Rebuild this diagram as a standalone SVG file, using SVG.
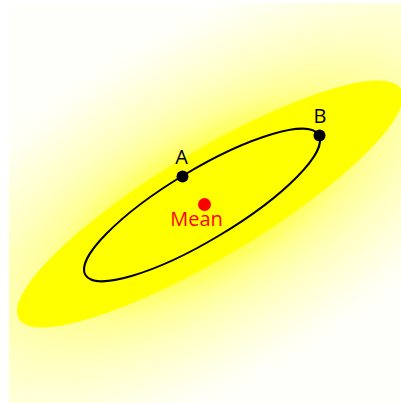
<svg xmlns="http://www.w3.org/2000/svg" width="401" height="403" viewBox="0 0 401 403">
  <defs>
    <radialGradient id="glow" gradientUnits="userSpaceOnUse" cx="0" cy="0" r="1" gradientTransform="translate(210 204) rotate(-31) scale(420 175)">
      <stop offset="0" stop-color="#ffff00"/>
      <stop offset="0.3" stop-color="#ffff50"/>
      <stop offset="0.45" stop-color="#ffff98"/>
      <stop offset="0.6" stop-color="#ffffc0"/>
      <stop offset="0.78" stop-color="#ffffde"/>
      <stop offset="0.9" stop-color="#fffff0"/>
      <stop offset="1" stop-color="#fffffa"/>
    </radialGradient>
    <style>
      .lbl { font-family: "Open Sans", "Liberation Sans", sans-serif; font-size: 20px; text-anchor: middle; }
      .pt { fill: #000000; }
    </style>
  </defs>
  <rect x="0" y="0" width="401" height="403" fill="#ffffff"/>
  <rect id="background" x="9" y="3" width="392" height="400" fill="url(#glow)"/>
  <g id="outer-region">
    <ellipse cx="210" cy="204" rx="223" ry="53" transform="rotate(-31 210 204)" fill="#ffff00"/>
  </g>
  <g id="contour">
    <ellipse cx="202" cy="205" rx="136" ry="35" transform="rotate(-31 202 205)" fill="none" stroke="#000000" stroke-width="2"/>
  </g>
  <g id="mean">
    <circle cx="204.5" cy="204.5" r="6.5" fill="#ff0000"/>
    <text class="lbl" x="196.5" y="226" fill="#ff0000">Mean</text>
  </g>
  <g id="pointA">
    <circle class="pt" cx="182.5" cy="176.5" r="6"/>
    <text class="lbl" x="181.7" y="164" fill="#000000">A</text>
  </g>
  <g id="pointB">
    <circle class="pt" cx="319.5" cy="135.5" r="6"/>
    <text class="lbl" x="320" y="123" fill="#000000">B</text>
  </g>
</svg>
